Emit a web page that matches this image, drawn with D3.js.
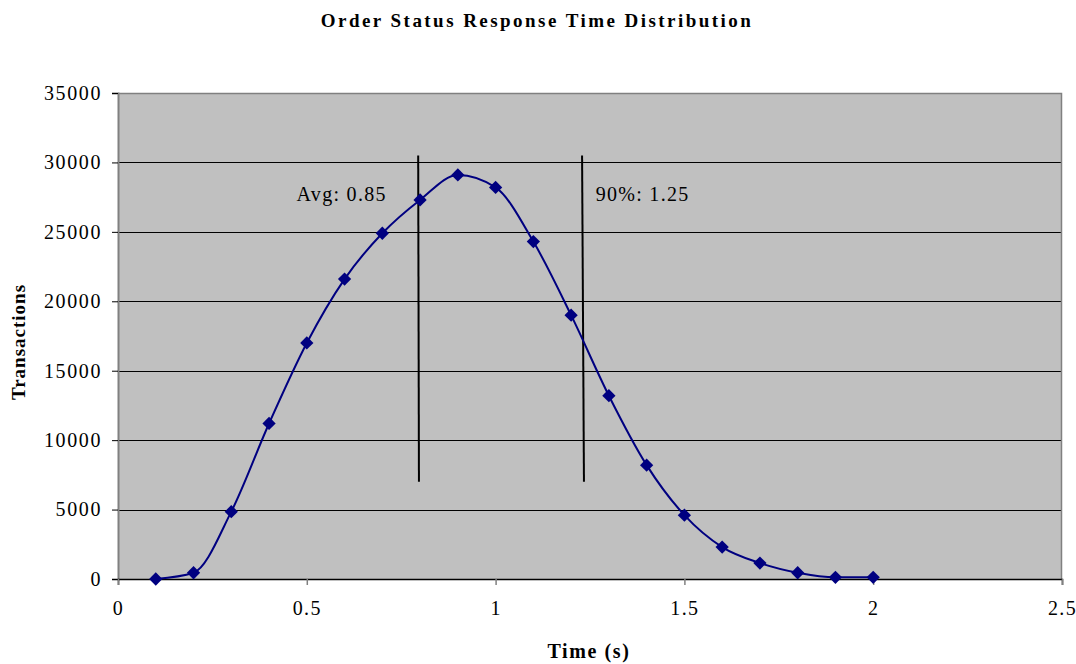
<!DOCTYPE html>
<html>
<head>
<meta charset="utf-8">
<script src="https://cdn.jsdelivr.net/npm/d3@7"></script>
<style>
  body { margin: 0; background: #fff; }
  text { font-family: "Liberation Serif", "Times New Roman", serif; fill: #000; }
</style>
</head>
<body>
<svg id="chart" width="1076" height="664"></svg>
<script>
// response time buckets (s) and transaction counts
const times = [0.1, 0.2, 0.3, 0.4, 0.5, 0.6, 0.7, 0.8, 0.9, 1.0,
               1.1, 1.2, 1.3, 1.4, 1.5, 1.6, 1.7, 1.8, 1.9, 2.0];
const transactions = [0, 450, 4850, 11200, 17000, 21600, 24900, 27300, 29100, 28200,
                      24300, 19000, 13200, 8200, 4600, 2300, 1150, 450, 120, 120];

const xTicks = [0, 0.5, 1, 1.5, 2, 2.5];
const yTicks = [0, 5000, 10000, 15000, 20000, 25000, 30000, 35000];

// hand drawn marker lines: label, x at top / bottom, y top / bottom
const markerLabels = ["Avg: 0.85", "90%: 1.25"];
const markerXTop = [0.795, 1.229];
const markerXBottom = [0.797, 1.234];
const markerYTop = [30500, 30500];
const markerYBottom = [7000, 7000];
const markerLabelX = [0.473, 1.265];
const markerLabelY = [27200, 27200];

const margin = { top: 93, right: 14, bottom: 85, left: 118 };
const width = 1076 - margin.left - margin.right;
const height = 664 - margin.top - margin.bottom;

const svg = d3.select("#chart");
const g = svg.append("g").attr("transform", `translate(${margin.left},${margin.top})`);

const x = d3.scaleLinear().domain([0, 2.5]).range([0, width]);
const y = d3.scaleLinear().domain([0, 35000]).range([height, 0]);

// plot background
g.append("rect")
  .attr("width", width)
  .attr("height", height)
  .attr("fill", "#c0c0c0");

// gridlines
g.append("g")
  .selectAll("line")
  .data(yTicks.filter(d => d > 0 && d < 35000))
  .enter().append("line")
  .attr("x1", 0).attr("x2", width)
  .attr("y1", d => Math.round(y(d)) + 0.5).attr("y2", d => Math.round(y(d)) + 0.5)
  .attr("stroke", "#000").attr("stroke-width", 1);

// top and right border
g.append("path")
  .attr("d", `M0,0.5H${width - 0.5}V${height}`)
  .attr("fill", "none").attr("stroke", "#808080").attr("stroke-width", 1.5);

// y axis
const yAxis = g.append("g")
  .call(d3.axisLeft(y).tickValues(yTicks).tickSize(6).tickPadding(10).tickFormat(d3.format("d")));
yAxis.select(".domain").attr("stroke", "#808080").attr("stroke-width", 2);
yAxis.selectAll(".tick line").attr("stroke", "#000");
yAxis.selectAll(".tick text")
  .attr("font-size", 20)
  .attr("letter-spacing", 1.6)
  .attr("font-family", "Liberation Serif");

// x axis
const xAxis = g.append("g")
  .attr("transform", `translate(0,${height})`)
  .call(d3.axisBottom(x).tickValues(xTicks).tickSize(6).tickPadding(16).tickFormat(d3.format("")));
xAxis.select(".domain").attr("stroke", "#000").attr("stroke-width", 1.5);
xAxis.selectAll(".tick line").attr("stroke", "#808080").attr("stroke-width", 1.5);
xAxis.selectAll(".tick text")
  .attr("font-size", 20)
  .attr("letter-spacing", 1.4)
  .attr("font-family", "Liberation Serif");

// marker lines
markerLabels.forEach((lab, i) => {
  g.append("line")
    .attr("x1", x(markerXTop[i])).attr("y1", y(markerYTop[i]))
    .attr("x2", x(markerXBottom[i])).attr("y2", y(markerYBottom[i]))
    .attr("stroke", "#000").attr("stroke-width", 2);
  g.append("text")
    .attr("x", x(markerLabelX[i]))
    .attr("y", y(markerLabelY[i]))
    .attr("font-size", 20)
    .attr("letter-spacing", 1.3)
    .text(lab);
});

// smoothed series line
const pts = times.map((t, i) => [t, transactions[i]]);
const line = d3.line()
  .x(d => x(d[0]))
  .y(d => y(d[1]))
  .curve(d3.curveMonotoneX);

g.append("path")
  .datum(pts)
  .attr("d", line)
  .attr("fill", "none")
  .attr("stroke", "#000080")
  .attr("stroke-width", 2);

// diamond markers
g.append("g")
  .selectAll("path")
  .data(pts)
  .enter().append("path")
  .attr("d", d3.symbol().type(d3.symbolSquare).size(88))
  .attr("transform", d => `translate(${x(d[0])},${y(d[1])}) rotate(45)`)
  .attr("fill", "#000080");

// title
svg.append("text")
  .attr("x", 537)
  .attr("y", 27)
  .attr("text-anchor", "middle")
  .attr("font-size", 19)
  .attr("font-weight", "bold")
  .attr("letter-spacing", 2.45)
  .text("Order Status Response Time Distribution");

// axis titles
svg.append("text")
  .attr("x", 589)
  .attr("y", 658)
  .attr("text-anchor", "middle")
  .attr("font-size", 20)
  .attr("font-weight", "bold")
  .attr("letter-spacing", 1.6)
  .text("Time (s)");

svg.append("text")
  .attr("transform", "translate(25,342) rotate(-90)")
  .attr("text-anchor", "middle")
  .attr("font-size", 19)
  .attr("font-weight", "bold")
  .attr("letter-spacing", 1)
  .text("Transactions");
</script>
</body>
</html>
